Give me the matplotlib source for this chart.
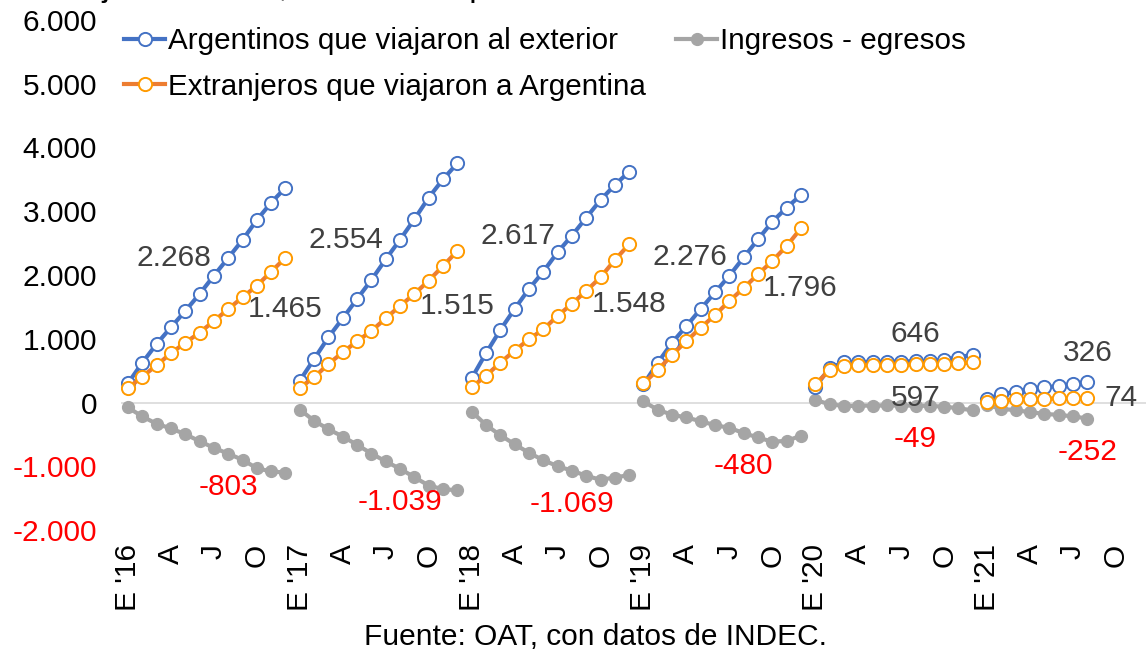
import matplotlib.pyplot as plt
from matplotlib.ticker import FuncFormatter

# Monthly cumulative values (thousands) per year, Jan..Dec
years = ['16', '17', '18', '19', '20', '21']

argentinos = [
    [301, 624, 918, 1179, 1435, 1702, 1989, 2268, 2549, 2863, 3134, 3370],
    [342, 682, 1023, 1321, 1624, 1922, 2246, 2554, 2874, 3213, 3501, 3752],
    [380, 772, 1137, 1467, 1780, 2052, 2356, 2617, 2898, 3176, 3412, 3620],
    [285, 624, 938, 1200, 1467, 1729, 1989, 2276, 2560, 2836, 3056, 3255],
    [245, 540, 630, 636, 638, 640, 643, 646, 654, 672, 705, 752],
    [55, 129, 170, 207, 238, 259, 285, 326],
]
extranjeros = [
    [223, 405, 584, 772, 938, 1095, 1278, 1465, 1650, 1832, 2052, 2271],
    [232, 395, 604, 787, 960, 1122, 1321, 1515, 1702, 1911, 2141, 2376],
    [238, 420, 624, 813, 991, 1148, 1357, 1548, 1749, 1964, 2235, 2482],
    [301, 510, 745, 965, 1173, 1373, 1592, 1796, 2011, 2220, 2455, 2733],
    [283, 513, 575, 585, 590, 593, 595, 597, 600, 607, 615, 628],
    [15, 28, 50, 55, 60, 64, 68, 74],
]
saldo = [
    [-78, -219, -334, -407, -497, -607, -711, -803, -899, -1031, -1082, -1099],
    [-110, -287, -419, -534, -664, -800, -925, -1039, -1172, -1302, -1360, -1376],
    [-142, -352, -513, -654, -789, -904, -999, -1069, -1149, -1212, -1177, -1138],
    [16, -114, -193, -235, -294, -356, -397, -480, -549, -616, -601, -522],
    [38, -27, -55, -51, -48, -47, -48, -49, -54, -65, -90, -124],
    [-40, -101, -120, -152, -178, -195, -217, -252],
]
month_letters = ['E', 'A', 'J', 'O']

BLUE = '#4472C4'
ORANGE = '#ED7D31'
ORANGE_MK = '#FF9A00'
GRAY = '#A5A5A5'
LABEL = '#404040'
RED = '#FF0000'

plt.rcParams['font.family'] = ['Liberation Sans', 'DejaVu Sans']

W, H = 1146, 657
fig = plt.figure(figsize=(W / 100, H / 100), dpi=100)
ax = fig.add_axes([120.8 / W, 1 - 530 / H, 1031 / W, 510 / H])

ax.axhline(0, color='#D9D9D9', lw=1.2, zorder=1)

for k in range(len(years)):
    x = [12 * k + m for m in range(len(argentinos[k]))]
    ax.plot(x, argentinos[k], color=BLUE, lw=3, marker='o', ms=9.5,
            mfc='white', mec=BLUE, mew=1.4, zorder=3,
            label='Argentinos que viajaron al exterior' if k == 0 else None)
    ax.plot(x, extranjeros[k], color=ORANGE, lw=3, marker='o', ms=9.5,
            mfc='white', mec=ORANGE_MK, mew=1.4, zorder=4,
            label='Extranjeros que viajaron a Argentina' if k == 0 else None)
    ax.plot(x, saldo[k], color=GRAY, lw=3, marker='o', ms=8.5,
            mfc=GRAY, mec=GRAY, zorder=2,
            label='Ingresos - egresos' if k == 0 else None)

# data labels at August of each year
fs = 21.5
fmt = lambda v: f'{v:,}'.replace(',', '.')
for k in range(len(years)):
    xi = 12 * k + 7
    a, e, s = argentinos[k][7], extranjeros[k][7], saldo[k][7]
    if k < 4:
        ax.annotate(fmt(a), (xi, a), xytext=(-12, 0), textcoords='offset points',
                    ha='right', va='center', fontsize=fs, color=LABEL)
        ax.annotate(fmt(e), (xi, e), xytext=(14, 0), textcoords='offset points',
                    ha='left', va='center', fontsize=fs, color=LABEL)
    elif k == 4:
        ax.annotate(fmt(a), (xi, a), xytext=(0, 20), textcoords='offset points',
                    ha='center', va='center', fontsize=fs, color=LABEL)
        ax.annotate(fmt(e), (xi, e), xytext=(0, -24), textcoords='offset points',
                    ha='center', va='center', fontsize=fs, color=LABEL)
    else:
        ax.annotate(fmt(a), (xi, a), xytext=(0, 21), textcoords='offset points',
                    ha='center', va='center', fontsize=fs, color=LABEL)
        ax.annotate(fmt(e), (xi, e), xytext=(12, 0), textcoords='offset points',
                    ha='left', va='center', fontsize=fs, color=LABEL)
    ax.annotate(fmt(s), (xi, s), xytext=(0, -24), textcoords='offset points',
                ha='center', va='center', fontsize=fs, color=RED)

ax.set_xlim(-0.5, 71.5)
ax.set_ylim(-2000, 6000)
ax.set_yticks(range(-2000, 6001, 1000))
ax.yaxis.set_major_formatter(FuncFormatter(lambda v, p: fmt(int(v))))

xt, xl = [], []
for k, yr in enumerate(years):
    for j, m in enumerate(month_letters):
        xt.append(12 * k + 3 * j)
        xl.append(f"E '{yr}" if j == 0 else m)
ax.set_xticks(xt)
ax.set_xticklabels(xl, rotation=90)
ax.tick_params(axis='both', length=0, labelsize=fs)
ax.tick_params(axis='y', pad=17)
ax.tick_params(axis='x', pad=10)
for t in ax.get_yticklabels():
    if float(t.get_position()[1]) < 0:
        t.set_color(RED)
for sp in ax.spines.values():
    sp.set_visible(False)

ax.legend(loc='upper left', bbox_to_anchor=(124 / W, 1 - 27 / H),
          bbox_transform=fig.transFigure, ncol=2, frameon=False, fontsize=21.3,
          borderpad=0, borderaxespad=0, handlelength=1.4, handletextpad=0.1,
          columnspacing=1.0, labelspacing=0.6)

# title sits mostly above the top edge, as in the source image
fig.text(582 / W, 1 + 4 / H, 'Viajes en miles, acumulado por año', ha='right',
         va='baseline', fontsize=24, color='black')
fig.text(595 / W, 1 - 637 / H, 'Fuente: OAT, con datos de INDEC.', ha='center',
         va='center', fontsize=fs, color='black')

fig.savefig('out.png', dpi=100)
